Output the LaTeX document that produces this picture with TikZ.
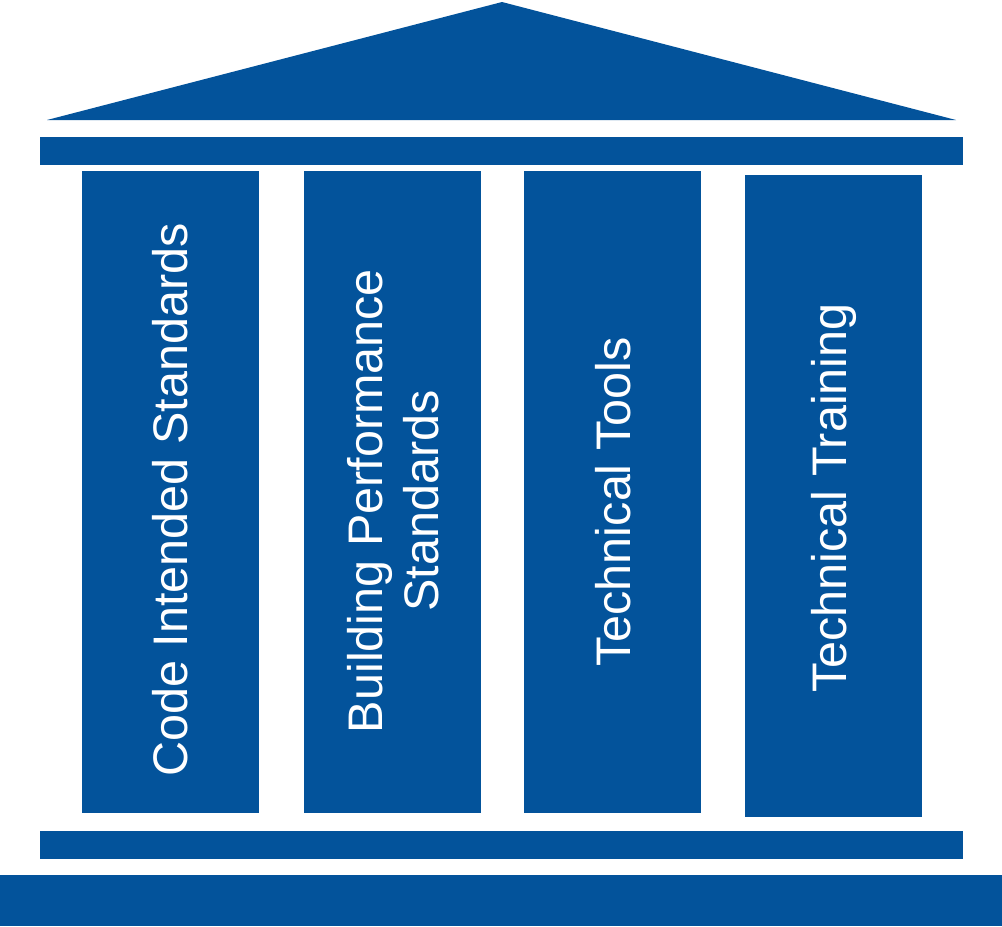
\documentclass[tikz,border=0pt]{standalone}
\usepackage{fontspec}
\setmainfont{Liberation Sans}
\usepackage{xcolor}
\definecolor{pillarblue}{RGB}{3,83,155}

\begin{document}
\begin{tikzpicture}[x=0.75pt, y=-0.75pt,
    pillartext/.style={text=white, rotate=90, align=center,
        font=\fontsize{36.4pt}{41.5pt}\selectfont}]
        \useasboundingbox (0,0) rectangle (1002,926);
        % Roof
        \fill[pillarblue] (47,120) -- (502,2) -- (956,120) -- cycle;
        % Top beam
        \fill[pillarblue] (40,137) rectangle (963,165);
        % Pillars
        \fill[pillarblue] (82,171) rectangle (259,813);
        \fill[pillarblue] (304,171) rectangle (481,813);
        \fill[pillarblue] (524,171) rectangle (701,813);
        \fill[pillarblue] (745,175) rectangle (922,817);
        % Bottom beam and base
        \fill[pillarblue] (40,831) rectangle (963,859);
        \fill[pillarblue] (0,875) rectangle (1002,926);
        % Pillar labels
        \node[pillartext] (code) at (170.5,500) {Code Intended Standards};
        \node[pillartext] (bps) at (393,501) {Building Performance\\Standards};
        \node[pillartext] (tools) at (613,502) {Technical Tools};
        \node[pillartext] (training) at (834,498) {Technical Training};
    \end{tikzpicture}
\end{document}
